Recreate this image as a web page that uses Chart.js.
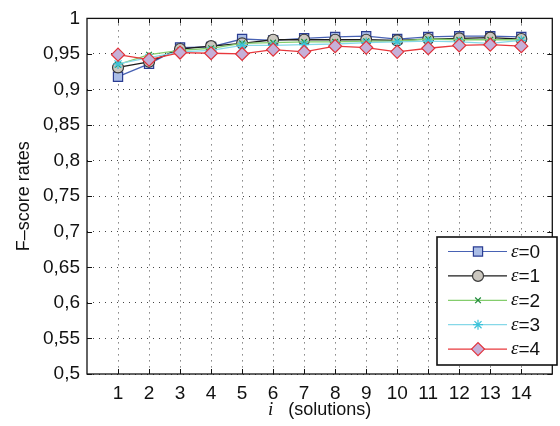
<!DOCTYPE html>
<html lang="en">
<head>
  <meta charset="UTF-8" />
  <title>F-score rates</title>
  <script src="https://cdn.jsdelivr.net/npm/chart.js"></script>
  <style>
    body { margin: 0; background: #ffffff; }
    #wrap { width: 560px; height: 426px; }
  </style>
</head>
<body>
  <div id="wrap"><canvas id="fscoreChart" width="560" height="426"></canvas></div>

  <script>
    // values
    const solutions = [1, 2, 3, 4, 5, 6, 7, 8, 9, 10, 11, 12, 13, 14];
    const eps0 = [0.918, 0.936, 0.959, 0.960, 0.971, 0.969, 0.972, 0.974, 0.975, 0.971, 0.974, 0.975, 0.975, 0.974];
    const eps1 = [0.931, 0.939, 0.957, 0.961, 0.965, 0.970, 0.970, 0.970, 0.970, 0.969, 0.971, 0.972, 0.973, 0.971];
    const eps2 = [0.935, 0.949, 0.955, 0.958, 0.965, 0.966, 0.967, 0.967, 0.968, 0.968, 0.971, 0.970, 0.970, 0.970];
    const eps3 = [0.936, 0.945, 0.953, 0.955, 0.962, 0.962, 0.963, 0.964, 0.966, 0.967, 0.968, 0.967, 0.965, 0.969];
    const eps4 = [0.949, 0.942, 0.952, 0.951, 0.950, 0.956, 0.953, 0.961, 0.959, 0.953, 0.958, 0.962, 0.963, 0.961];
    const legendNames = ["0", "1", "2", "3", "4"];
    const yTickValues = [0.5, 0.55, 0.6, 0.65, 0.7, 0.75, 0.8, 0.85, 0.9, 0.95, 1];
    const yTickLabels = ["0,5", "0,55", "0,6", "0,65", "0,7", "0,75", "0,8", "0,85", "0,9", "0,95", "1"];

    const FONT = "'Liberation Sans', Arial, sans-serif";
    const SERIF = "'Liberation Serif', 'Times New Roman', serif";
    const FS = 19;

    function pts(arr) {
      return arr.map((v, i) => ({ x: solutions[i], y: v }));
    }

    // marker / line styles per series
    const looks = [
      { line: "#4862b4", fill: "#aabde6", edge: "#2b3d92", style: "rect", r: 6.5 },
      { line: "#1c1c1c", fill: "#cbc7bf", edge: "#3a3a3a", style: "circle", r: 5.5 },
      { line: "#84cd6c", fill: "#1f8a3a", edge: "#1f8a3a", style: "crossRot", r: 4 },
      { line: "#86d8e8", fill: "#3cc3da", edge: "#3cc3da", style: "star", r: 5 },
      { line: "#e8383c", fill: "#c6b0d8", edge: "#e2333b", style: "rectRot", r: 6.5 }
    ];
    const series = [eps0, eps1, eps2, eps3, eps4];

    const datasets = series.map((s, i) => ({
      label: "\u03b5=" + legendNames[i],
      data: pts(s),
      borderColor: looks[i].line,
      borderWidth: 1.3,
      pointStyle: looks[i].style,
      pointRadius: looks[i].r,
      pointBackgroundColor: looks[i].fill,
      pointBorderColor: looks[i].edge,
      pointBorderWidth: 1.2,
      tension: 0,
      order: 4 - i
    }));

    function drawMarker(ctx, look, x, y) {
      ctx.save();
      ctx.fillStyle = look.fill;
      ctx.strokeStyle = look.edge;
      ctx.lineWidth = 1.2;
      if (Chart.helpers && Chart.helpers.drawPoint) {
        Chart.helpers.drawPoint(ctx, { pointStyle: look.style, radius: look.r, rotation: 0, borderWidth: 1.2 }, x, y);
      } else {
        ctx.beginPath();
        ctx.arc(x, y, look.r, 0, Math.PI * 2);
        ctx.fill();
        ctx.stroke();
      }
      ctx.restore();
    }

    // box, inward ticks, x title and legend like the original figure
    const framePlugin = {
      id: "frame",
      afterDraw(chart) {
        const ctx = chart.ctx;
        const a = chart.chartArea;
        const xs = chart.scales.x, ys = chart.scales.y;
        ctx.save();
        ctx.strokeStyle = "#111";
        ctx.lineWidth = 1.3;
        ctx.strokeRect(a.left, a.top, a.right - a.left, a.bottom - a.top);
        ctx.lineWidth = 1;
        ctx.beginPath();
        solutions.forEach(v => {
          const px = Math.round(xs.getPixelForValue(v)) + 0.5;
          ctx.moveTo(px, a.bottom); ctx.lineTo(px, a.bottom - 5);
          ctx.moveTo(px, a.top); ctx.lineTo(px, a.top + 5);
        });
        yTickValues.forEach(v => {
          const py = Math.round(ys.getPixelForValue(v)) + 0.5;
          ctx.moveTo(a.left, py); ctx.lineTo(a.left + 5, py);
          ctx.moveTo(a.right, py); ctx.lineTo(a.right - 5, py);
        });
        ctx.stroke();

        // x title: italic i, then "(solutions)"
        ctx.fillStyle = "#111";
        ctx.textBaseline = "middle";
        const t1 = "i", t2 = "   (solutions)";
        ctx.font = "italic " + FS + "px " + SERIF;
        const w1 = ctx.measureText(t1).width;
        ctx.font = (FS - 1) + "px " + FONT;
        const w2 = ctx.measureText(t2).width;
        const tx = (a.left + a.right) / 2 - (w1 + w2) / 2;
        const ty = 410;
        ctx.font = "italic " + FS + "px " + SERIF;
        ctx.fillText(t1, tx, ty);
        ctx.font = (FS - 1) + "px " + FONT;
        ctx.fillText(t2, tx + w1, ty);

        // legend
        const bx = 437, by = 237, bw = 120, bh = 128;
        ctx.fillStyle = "#fff";
        ctx.fillRect(bx, by, bw, bh);
        ctx.strokeStyle = "#111";
        ctx.lineWidth = 1.6;
        ctx.strokeRect(bx, by, bw, bh);
        chart.data.datasets.forEach((ds, i) => {
          const y = by + 14.5 + i * 24.4;
          ctx.strokeStyle = ds.borderColor;
          ctx.lineWidth = 1.2;
          ctx.beginPath();
          ctx.moveTo(bx + 11, y); ctx.lineTo(bx + 70, y);
          ctx.stroke();
          drawMarker(ctx, looks[i], bx + 41, y);
          ctx.fillStyle = "#111";
          ctx.font = "italic " + FS + "px " + SERIF;
          ctx.fillText("\u03b5", bx + 74, y);
          const we = ctx.measureText("\u03b5").width;
          ctx.font = FS + "px " + FONT;
          ctx.fillText("=" + legendNames[i], bx + 74 + we, y + 1);
        });
        ctx.restore();
      }
    };

    const gridLook = { color: "#444", lineWidth: 1, drawTicks: false };
    const dotted = { display: false, dash: [1, 5] };

    new Chart(document.getElementById("fscoreChart"), {
      type: "line",
      data: { datasets },
      options: {
        responsive: false,
        animation: false,
        events: [],
        layout: { padding: { top: 11, right: 2, left: 0, bottom: 0 } },
        plugins: { legend: { display: false }, tooltip: { enabled: false } },
        scales: {
          x: {
            type: "linear",
            min: 0,
            max: 15,
            afterBuildTicks: s => { s.ticks = solutions.map(v => ({ value: v })); },
            afterFit: s => { s.height = 52; },
            grid: gridLook,
            border: dotted,
            ticks: { padding: 8, color: "#111", font: { family: FONT, size: FS }, callback: v => String(v) }
          },
          y: {
            min: 0.5,
            max: 1,
            afterBuildTicks: s => { s.ticks = yTickValues.map(v => ({ value: v })); },
            afterFit: s => { s.width = 87; },
            grid: gridLook,
            border: dotted,
            ticks: {
              padding: 7,
              color: "#111",
              font: { family: FONT, size: FS },
              callback: (v, idx) => yTickLabels[idx]
            },
            title: {
              display: true,
              text: "F\u2013score rates",
              color: "#111",
              font: { family: FONT, size: 18, lineHeight: 1.2 },
              padding: { top: 13, bottom: 0 }
            }
          }
        }
      },
      plugins: [framePlugin]
    });
  </script>
</body>
</html>
